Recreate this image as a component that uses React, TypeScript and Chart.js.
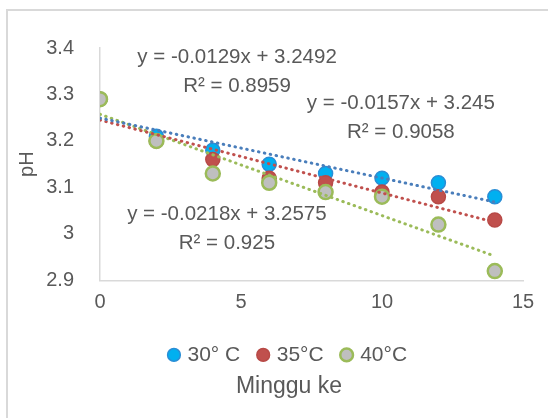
import React, { useEffect, useRef } from "react";
import { Chart, registerables } from "chart.js";

Chart.register(...registerables);

// ---- data ----
const weeks = [0, 2, 4, 6, 8, 10, 12, 14];
const ph30 = [3.29, 3.21, 3.18, 3.15, 3.13, 3.12, 3.11, 3.08];
const ph35 = [3.29, 3.2, 3.16, 3.12, 3.11, 3.09, 3.08, 3.03];
const ph40 = [3.29, 3.2, 3.13, 3.11, 3.09, 3.08, 3.02, 2.92];
const seriesLabels = ["30° C", "35°C", "40°C"];
const slopes = [-0.0129, -0.0157, -0.0218];
const intercepts = [3.2492, 3.245, 3.2575];
const rSquared = ["0.8959", "0.9058", "0.925"];
const xTicks = [0, 5, 10, 15];
const yTicks = [2.9, 3, 3.1, 3.2, 3.3, 3.4];

// ---- styling / label placement (data units) ----
const TEXT = "#595959";
const FONT = '"Liberation Sans", Arial, sans-serif';
const eqPos = [
  { x: 4.86, y: 3.38 },
  { x: 10.67, y: 3.28 },
  { x: 4.5, y: 3.042 },
];
const R_OFFSET_PX = 29;
const BOTTOM_BLOCK_SHIFT = 27.5;

const markerStyles = [
  { bg: "#00B0F0", border: "#2A8ED6", bw: 1.5 },
  { bg: "#C0504D", border: "#B84A47", bw: 1.5 },
  { bg: "#BFBFBF", border: "#9BBB59", bw: 2.5 },
];
const trendColors = ["#4A7EBB", "#C0504D", "#9BBB59"];

const eqPlugin = {
  id: "eqLabels",
  afterDraw(chart: any) {
    const { ctx, scales } = chart;
    ctx.save();
    ctx.font = `20.5px ${FONT}`;
    ctx.fillStyle = TEXT;
    ctx.textAlign = "center";
    ctx.textBaseline = "middle";
    eqPos.forEach((p, i) => {
      const px = scales.x.getPixelForValue(p.x);
      const py = scales.y.getPixelForValue(p.y);
      ctx.fillText(`y = ${slopes[i]}x + ${intercepts[i]}`, px, py);
      ctx.fillText(`R² = ${rSquared[i]}`, px, py + R_OFFSET_PX);
    });
    ctx.restore();
  },
};

// shift the bottom legend + axis title so they are centred like the original
const shiftPlugin = {
  id: "shiftBottom",
  afterLayout(chart: any) {
    const boxes = [chart.legend, chart.titleBlock];
    boxes.forEach((b: any) => {
      if (!b) return;
      b.left += BOTTOM_BLOCK_SHIFT;
      b.right += BOTTOM_BLOCK_SHIFT;
    });
  },
};

export default function App() {
  const ref = useRef<HTMLCanvasElement | null>(null);

  useEffect(() => {
    if (!ref.current) return;
    const series = [ph30, ph35, ph40];
    const scatterSets = series.map((vals, i) => ({
      type: "scatter" as const,
      label: seriesLabels[i],
      data: weeks.map((w, j) => ({ x: w, y: vals[j] })),
      backgroundColor: markerStyles[i].bg,
      borderColor: markerStyles[i].border,
      borderWidth: markerStyles[i].bw,
      pointRadius: 7,
      pointHoverRadius: 7,
      pointStyle: "circle",
      order: 3 - i,
    }));
    const x0 = weeks[0];
    const x1 = weeks[weeks.length - 1];
    const trendSets = slopes.map((m, i) => ({
      type: "line" as const,
      label: "trend" + i,
      data: [
        { x: x0, y: intercepts[i] + m * x0 },
        { x: x1, y: intercepts[i] + m * x1 },
      ],
      borderColor: trendColors[i],
      borderWidth: 3,
      borderDash: [0.5, 5.5],
      borderCapStyle: "round",
      pointRadius: 0,
      fill: false,
      order: 0,
    }));

    const chart = new Chart(ref.current, {
      type: "scatter",
      data: { datasets: [...scatterSets, ...trendSets] as any },
      plugins: [shiftPlugin, eqPlugin],
      options: {
        animation: false,
        responsive: false,
        maintainAspectRatio: false,
        layout: { padding: { left: 0, right: 25, top: 48, bottom: 18 } },
        plugins: {
          tooltip: { enabled: false },
          legend: {
            position: "bottom",
            labels: {
              filter: (item: any) => item.datasetIndex < 3,
              sort: (a: any, b: any) => a.datasetIndex - b.datasetIndex,
              usePointStyle: true,
              pointStyle: "circle",
              boxWidth: 6,
              boxHeight: 9,
              padding: 20,
              color: TEXT,
              font: { family: FONT, size: 21 },
            },
          },
          title: {
            display: true,
            position: "bottom",
            text: "Minggu ke",
            color: TEXT,
            font: { family: FONT, size: 23, weight: "normal" },
            padding: { top: -3, bottom: 0 },
          },
        },
        scales: {
          x: {
            type: "linear",
            min: 0,
            max: 15,
            afterBuildTicks: (s: any) => {
              s.ticks = xTicks.map((v) => ({ value: v }));
            },
            afterFit: (s: any) => {
              s.height = 44;
            },
            grid: { display: false, drawTicks: false },
            border: { display: true, color: "#D9D9D9", width: 1.5 },
            ticks: {
              padding: 10,
              color: TEXT,
              font: { family: FONT, size: 20 },
              maxRotation: 0,
              callback: (v: any) => String(v),
            },
          },
          y: {
            type: "linear",
            min: 2.9,
            max: 3.4,
            afterBuildTicks: (s: any) => {
              s.ticks = yTicks.map((v) => ({ value: v }));
            },
            afterFit: (s: any) => {
              s.width = 100;
            },
            grid: { display: false, drawTicks: false },
            border: { display: true, color: "#D9D9D9", width: 1.5 },
            ticks: {
              padding: 26,
              color: TEXT,
              font: { family: FONT, size: 20 },
              callback: (v: any) => String(Math.round(v * 10) / 10),
            },
            title: {
              display: true,
              text: "pH",
              color: TEXT,
              font: { family: FONT, size: 20 },
              padding: { top: 15, bottom: 0 },
            },
          },
        },
      },
    });
    return () => chart.destroy();
  }, []);

  return (
    <div
      style={{
        position: "fixed",
        left: 0,
        top: 0,
        width: 548,
        height: 418,
        overflow: "hidden",
        background: "#fff",
      }}
    >
      <div
        style={{
          position: "absolute",
          left: 6,
          top: 9,
          width: 1000,
          height: 1000,
          border: "2px solid #D9D9D9",
        }}
      />
      <canvas
        ref={ref}
        width={548}
        height={418}
        style={{ position: "absolute", left: 0, top: 0, width: 548, height: 418 }}
      />
    </div>
  );
}
